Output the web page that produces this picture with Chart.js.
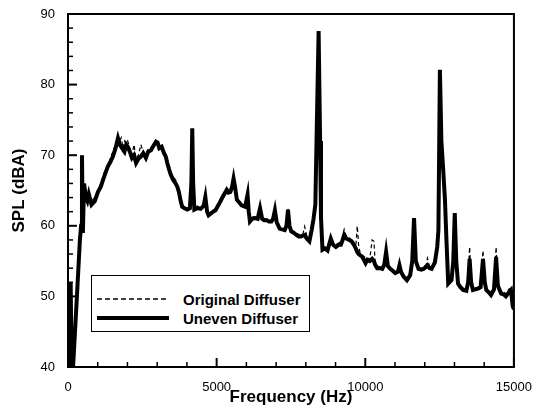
<!DOCTYPE html>
<html>
<head>
<meta charset="utf-8">
<script src="https://cdn.jsdelivr.net/npm/chart.js@4/dist/chart.umd.min.js"></script>
<style>
  body { margin: 0; background: #fff; }
  #wrap { position: relative; width: 537px; height: 410px; }
  #legend {
    position: absolute; left: 91px; top: 275px; width: 219px; height: 57px;
    border: 1px solid #000; background: #fff; box-sizing: border-box;
    font: bold 15px "Liberation Sans", Arial, sans-serif; color: #000;
  }
  .row { position: absolute; left: 0; height: 18px; display: flex; align-items: center; }
  .row svg { margin-left: 5px; margin-right: 14px; }
</style>
</head>
<body>
<div id="wrap">
  <canvas id="chart" width="537" height="410"></canvas>
  <div id="legend"></div>
</div>
<script>
// frequency axis (Hz)
const freq = [
  0, 30, 60, 90, 120, 170, 300, 400, 440, 470, 500, 540, 600, 650, 700, 790, 900, 1010, 1100, 1180,
  1260, 1340, 1420, 1510, 1600, 1680, 1740, 1790, 1850, 1900, 1960, 2010, 2080, 2150, 2220, 2290, 2370, 2450, 2530, 2620,
  2700, 2790, 2870, 2960, 3010, 3070, 3150, 3230, 3290, 3340, 3400, 3460, 3540, 3620, 3680, 3730, 3790, 3840, 3920, 4010,
  4100, 4150, 4180, 4210, 4250, 4350, 4460, 4560, 4620, 4680, 4730, 4850, 4960, 5070, 5180, 5260, 5340, 5400, 5460, 5520,
  5570, 5620, 5680, 5760, 5840, 5960, 6040, 6080, 6120, 6200, 6290, 6380, 6460, 6530, 6600, 6680, 6760, 6840, 6900, 6960,
  7020, 7120, 7200, 7290, 7350, 7400, 7450, 7510, 7600, 7680, 7760, 7840, 7900, 7960, 8030, 8120, 8200, 8260, 8320, 8360,
  8430, 8480, 8510, 8560, 8640, 8730, 8840, 8920, 9010, 9100, 9180, 9240, 9290, 9360, 9460, 9540, 9620, 9680, 9730, 9780,
  9840, 9900, 10010, 10070, 10150, 10230, 10290, 10330, 10400, 10490, 10570, 10640, 10700, 10760, 10840, 10930, 11010, 11100, 11150, 11200,
  11290, 11400, 11510, 11580, 11640, 11700, 11790, 11880, 11960, 12050, 12090, 12160, 12230, 12340, 12420, 12460, 12510, 12560, 12620, 12680,
  12730, 12790, 12900, 12960, 13010, 13060, 13120, 13200, 13290, 13400, 13460, 13510, 13560, 13620, 13700, 13790, 13880, 13960, 14020, 14070,
  14150, 14230, 14330, 14400, 14460, 14570, 14650, 14730, 14820, 14900, 14960, 15000
];

// SPL (dBA), uneven diffuser
const uneven = [
  40, 51, 42, 52, 40, 40, 50, 58, 60, 70, 59, 66, 64, 63.5, 64.5, 63, 63.5, 64.8, 65.5, 66.5,
  67.5, 68.4, 69, 69.8, 71, 72.4, 71.5, 71.2, 70.8, 70.5, 71.5, 71.2, 70.5, 69.6, 70, 68.9, 69.5, 69.8, 70.3, 69.6,
  70.5, 70.7, 71.3, 71.9, 71.8, 71, 71.2, 70.3, 69.8, 68.9, 68, 67.2, 66.5, 66, 65.5, 64.8, 63.5, 62.7, 62.5, 62.3,
  62.5, 66, 73.8, 66, 62.3, 62.5, 62.4, 62.8, 64.1, 62, 61.5, 61.9, 62.2, 63, 63.9, 64.5, 65.1, 64.7, 64.8, 65.5,
  66.7, 65.5, 63.7, 63.3, 62.9, 62.7, 64.4, 62, 60.6, 61, 61.1, 61, 62.5, 61, 60.8, 60.8, 60.6, 60.6, 61, 62.2,
  60.5, 59.6, 59.5, 59.4, 60, 62.3, 60, 59.2, 59, 58.7, 58.5, 58.5, 58.6, 58.7, 58.2, 57.8, 59.5, 61, 63, 72,
  87.6, 72, 61.2, 56.6, 56.8, 56.5, 58.2, 57.3, 57, 57.3, 57.3, 58, 58.7, 58.2, 58, 57.8, 57.3, 56.8, 56.3, 56,
  55.8, 55.6, 54.7, 55.2, 55, 55.3, 55, 54.5, 54, 54, 53.9, 54.5, 56.3, 54.3, 53.9, 53.6, 53.3, 53.5, 54.4, 53.5,
  52.8, 52.3, 53, 55, 61.1, 55, 53.9, 53.8, 53.9, 54.2, 54.4, 54, 53.9, 54.8, 57, 59.4, 82.1, 72, 68, 63.7,
  58, 51.8, 52.3, 55, 61.8, 55, 51.8, 51.3, 50.9, 50.8, 52, 55.3, 52, 50.9, 51, 51.1, 51.3, 55.3, 52, 50.9,
  50.6, 50.2, 51, 55.6, 51.5, 50.4, 50.3, 50, 50.5, 50.9, 48.6, 48.2
];

// SPL (dBA), original diffuser
const original = [
  40, 50, 44, 51, 41, 40, 51, 59, 62, 70, 60, 65, 65, 64, 64, 63.5, 64, 65, 66, 67,
  68, 68.5, 69.5, 70.5, 71.5, 72.8, 72, 72.5, 71, 72, 71.5, 72, 71, 70, 71.5, 69.5, 70, 71.5, 70.5, 70,
  71, 71, 71.5, 72.3, 72, 71.5, 71.5, 70.5, 70, 69, 68.5, 67.5, 67, 66.5, 65.5, 65, 64, 63, 62.5, 62.5,
  62.5, 66, 73, 66, 62.5, 62.8, 62.5, 63, 64.5, 62.3, 61.8, 62, 62.4, 63.3, 64, 64.8, 65.3, 65, 65, 65.6,
  66.8, 65.5, 64, 63.5, 63, 62.8, 64.6, 62, 61, 61.2, 61.3, 61.3, 62.5, 61.2, 61, 61, 60.8, 60.8, 61, 62.3,
  60.5, 59.8, 59.7, 59.6, 60, 62.4, 60, 59.4, 59.2, 59, 58.8, 58.6, 58.8, 59.9, 58.6, 58.3, 59.5, 61, 63, 72,
  87.4, 72, 61.5, 57, 57, 57, 58.5, 57.5, 57.4, 57.5, 57.8, 58.5, 59.5, 58.5, 58.3, 58, 57.5, 57, 60, 57,
  56, 55.8, 55.5, 55.5, 55.2, 58, 57.8, 55, 54.3, 54.2, 54, 55, 57, 54.5, 54, 53.8, 53.5, 53.7, 54.5, 53.6,
  53, 52.5, 53.2, 55, 60.8, 55, 54, 54, 54.2, 54.5, 55.4, 54.3, 54, 55, 57, 59.5, 81.5, 72, 68, 64,
  58, 52.5, 52.5, 55, 61.5, 55, 52, 51.5, 51.2, 51, 53, 57, 52.5, 51.2, 51.2, 51.3, 51.8, 56.5, 52.5, 51.2,
  50.8, 50.5, 51.5, 57, 52, 50.6, 50.8, 50.3, 51, 51.2, 49, 48.5
];

const seriesNames = ['Original Diffuser', 'Uneven Diffuser'];
const xTickLabels = [0, 5000, 10000, 15000];
const yTickLabels = [40, 50, 60, 70, 80, 90];

const FONT = '"Liberation Sans", Arial, sans-serif';

const toPoints = vals => freq.map((f, i) => ({ x: f, y: vals[i] }));

// inward tick marks + frame box
const frame = {
  id: 'frame',
  afterDraw(chart) {
    const { ctx, chartArea: a, scales: { x, y } } = chart;
    ctx.save();
    ctx.strokeStyle = '#000';
    x.ticks.forEach(t => {
      const px = x.getPixelForValue(t.value);
      const major = t.value % 5000 === 0;
      ctx.lineWidth = major ? 2 : 1.5;
      ctx.beginPath(); ctx.moveTo(px, a.bottom); ctx.lineTo(px, a.bottom - (major ? 9 : 5)); ctx.stroke();
    });
    y.ticks.forEach(t => {
      const py = y.getPixelForValue(t.value);
      const major = t.value % 10 === 0;
      ctx.lineWidth = major ? 2 : 1.5;
      ctx.beginPath(); ctx.moveTo(a.left, py); ctx.lineTo(a.left + (major ? 9 : 5), py); ctx.stroke();
    });
    ctx.lineWidth = 2;
    ctx.strokeRect(a.left, a.top, a.right - a.left, a.bottom - a.top);
    ctx.restore();
  }
};

new Chart(document.getElementById('chart'), {
  type: 'line',
  data: {
    datasets: [
      {
        label: seriesNames[0],
        data: toPoints(original),
        borderColor: '#000',
        borderWidth: 1.2,
        borderDash: [4, 3],
        pointRadius: 0,
        order: 1
      },
      {
        label: seriesNames[1],
        data: toPoints(uneven),
        borderColor: '#000',
        borderWidth: 4,
        pointRadius: 0,
        order: 0
      }
    ]
  },
  options: {
    responsive: false,
    animation: false,
    layout: { padding: { top: 14, right: 19, left: 0, bottom: 0 } },
    plugins: { legend: { display: false }, tooltip: { enabled: false } },
    scales: {
      x: {
        type: 'linear',
        min: 0, max: 15000,
        grid: { display: false },
        border: { display: false },
        ticks: {
          stepSize: 1000,
          maxTicksLimit: 100,
          padding: 5,
          autoSkip: false,
          maxRotation: 0,
          color: '#000',
          font: { family: FONT, size: 13 },
          callback: v => xTickLabels.includes(v) ? String(v) : ''
        },
        title: {
          display: true,
          text: 'Frequency (Hz)',
          color: '#000',
          font: { family: FONT, size: 17, weight: 'bold' },
          padding: { top: 2, bottom: 2 }
        },
        afterFit: s => { s.height = 43; }
      },
      y: {
        min: 40, max: 90,
        grid: { display: false },
        border: { display: false },
        ticks: {
          stepSize: 2,
          maxTicksLimit: 100,
          padding: 5,
          autoSkip: false,
          color: '#000',
          font: { family: FONT, size: 13 },
          callback: v => yTickLabels.includes(v) ? String(v) : ''
        },
        title: {
          display: true,
          text: 'SPL (dBA)',
          color: '#000',
          font: { family: FONT, size: 17, weight: 'bold' },
          padding: { top: 9, bottom: 9 }
        },
        afterFit: s => { s.width = 68; }
      }
    }
  },
  plugins: [frame]
});

// legend box inside the plot
const legend = document.getElementById('legend');
const styles = [
  '<line x1="0" y1="4" x2="72" y2="4" stroke="#000" stroke-width="1.5" stroke-dasharray="5,3"/>',
  '<line x1="0" y1="4" x2="72" y2="4" stroke="#000" stroke-width="4"/>'
];
seriesNames.forEach((name, i) => {
  const row = document.createElement('div');
  row.className = 'row';
  row.style.top = (14 + i * 19) + 'px';
  row.innerHTML = '<svg width="72" height="8">' + styles[i] + '</svg><span>' + name + '</span>';
  legend.appendChild(row);
});
</script>
</body>
</html>
